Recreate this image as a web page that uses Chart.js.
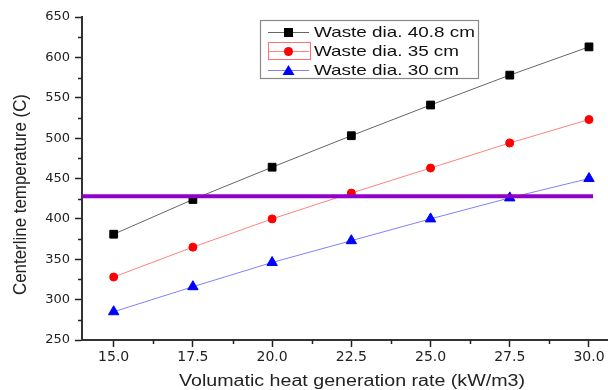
<!DOCTYPE html>
<html><head><meta charset="utf-8">
<script src="https://cdn.jsdelivr.net/npm/chart.js@4/dist/chart.umd.min.js"></script>
<style>html,body{margin:0;padding:0;background:#fff;}#wrap{width:608px;height:390px;}</style>
</head><body><div id="wrap"><canvas id="c" width="608" height="390"></canvas></div>
<script>
const rates = [15.0, 17.5, 20.0, 22.5, 25.0, 27.5, 30.0];
const dia408 = [381, 424, 464, 503, 541, 578, 613];
const dia35 = [328, 365, 400, 432, 463, 494, 523];
const dia30 = [285, 316, 346, 373, 400, 426, 450];
const seriesLabels = ['Waste dia. 40.8 cm', 'Waste dia. 35 cm', 'Waste dia. 30 cm'];
const refLevel = 428;
const refRange = [14.0, 30.13];
const xTicks = [15.0, 17.5, 20.0, 22.5, 25.0, 27.5, 30.0];
const yTicks = [250, 300, 350, 400, 450, 500, 550, 600, 650];
const xTitle = 'Volumatic heat generation rate (kW/m3)';
const yTitle = 'Centerline temperature (C)';

const FONT = 'DejaVu Sans';
const TFONT = 'Liberation Sans';
const pts = arr => rates.map((r, i) => ({x: r, y: arr[i]}));

function stretchedText(ctx, text, x, y, size, targetW, align) {
  ctx.font = size + 'px "' + TFONT + '"';
  const w = ctx.measureText(text).width;
  const sx = targetW / w;
  ctx.save();
  ctx.translate(x, y);
  ctx.scale(sx, 1);
  ctx.textAlign = 'left';
  ctx.fillText(text, align === 'center' ? -w / 2 : 0, 0);
  ctx.restore();
}

const extras = {
  id: 'extras',
  afterDraw(chart) {
    const ctx = chart.ctx, xs = chart.scales.x, ys = chart.scales.y;
    ctx.save();
    ctx.strokeStyle = '#222'; ctx.lineWidth = 1.5;
    for (let i = 0; i < xTicks.length - 1; i++) {
      const v = (xTicks[i] + xTicks[i + 1]) / 2;
      const px = Math.round(xs.getPixelForValue(v)) + 0.5;
      ctx.beginPath(); ctx.moveTo(px, ys.bottom); ctx.lineTo(px, ys.bottom + 4); ctx.stroke();
    }
    for (let i = 0; i < yTicks.length - 1; i++) {
      const v = (yTicks[i] + yTicks[i + 1]) / 2;
      const py = Math.round(ys.getPixelForValue(v)) + 0.5;
      ctx.beginPath(); ctx.moveTo(xs.left, py); ctx.lineTo(xs.left - 4, py); ctx.stroke();
    }
    ctx.fillStyle = '#222'; ctx.textBaseline = 'middle';
    stretchedText(ctx, xTitle, 352, 382, 16, 346, 'center');
    ctx.save();
    ctx.translate(21, 194.5); ctx.rotate(-Math.PI / 2);
    ctx.font = '16px "' + TFONT + '"';
    const yw = ctx.measureText(yTitle).width;
    ctx.scale(201 / yw, 1.1);
    ctx.textAlign = 'center';
    ctx.fillText(yTitle, 0, 0);
    ctx.restore();

    const bx = 260, by = 20, bw = 218, bh = 58;
    ctx.fillStyle = '#fff'; ctx.fillRect(bx, by, bw, bh);
    ctx.strokeStyle = '#888'; ctx.lineWidth = 1.2; ctx.strokeRect(bx + 0.5, by + 0.5, bw, bh);
    const rows = [32, 51, 70];
    const widths = [161, 145, 145];
    const ds = chart.data.datasets;
    for (let i = 0; i < 3; i++) {
      const d = ds[i], y = rows[i];
      ctx.strokeStyle = d.borderColor; ctx.lineWidth = 1;
      ctx.beginPath(); ctx.moveTo(268, y + 0.5); ctx.lineTo(309, y + 0.5); ctx.stroke();
      if (i === 1) { ctx.strokeStyle = '#ff7070'; ctx.strokeRect(268.5, 42.5, 42, 17); }
      ctx.fillStyle = d.pointBackgroundColor;
      if (d.pointStyle === 'rect') ctx.fillRect(284, y - 4, 9, 9);
      else if (d.pointStyle === 'circle') { ctx.beginPath(); ctx.arc(288.5, y + 0.5, 4.5, 0, Math.PI * 2); ctx.fill(); }
      else { ctx.beginPath(); ctx.moveTo(288.5, y - 5); ctx.lineTo(294.5, y + 5); ctx.lineTo(282.5, y + 5); ctx.closePath(); ctx.fill(); }
      ctx.fillStyle = '#111';
      stretchedText(ctx, d.label, 314, y + 1, 15, widths[i], 'left');
    }
    ctx.restore();
  }
};

new Chart(document.getElementById('c'), {
  type: 'line',
  data: {
    datasets: [
      {label: seriesLabels[0], data: pts(dia408), borderColor: '#666', borderWidth: 1, pointStyle: 'rect', pointRadius: 5.5, pointBackgroundColor: '#000', pointBorderColor: '#000', order: 2},
      {label: seriesLabels[1], data: pts(dia35), borderColor: '#ff8080', borderWidth: 1, pointStyle: 'circle', pointRadius: 4, pointBackgroundColor: '#ff0000', pointBorderColor: '#ff0000', order: 2},
      {label: seriesLabels[2], data: pts(dia30), borderColor: '#8080ff', borderWidth: 1, pointStyle: 'triangle', pointRadius: 6, pointBackgroundColor: '#0000ff', pointBorderColor: '#0000ff', order: 2},
      {label: 'ref', data: refRange.map(x => ({x, y: refLevel})), borderColor: '#9000c8', borderWidth: 4, pointRadius: 0, order: 1}
    ]
  },
  options: {
    responsive: false, animation: false,
    layout: {autoPadding: false, padding: {top: 17, right: 0, left: 0, bottom: 0}},
    plugins: {legend: {display: false}, tooltip: {enabled: false}},
    scales: {
      x: {
        type: 'linear', min: 14.0, max: 30.6,
        afterBuildTicks: s => { s.ticks = xTicks.map(v => ({value: v})); },
        afterFit: s => { s.height = 50; s.paddingRight = 0; s.paddingLeft = 0; },
        ticks: {callback: v => Number(v).toFixed(1), color: '#222', font: {family: FONT, size: 14}, padding: 2, maxRotation: 0, autoSkip: false},
        grid: {drawOnChartArea: false, drawTicks: true, tickLength: 7, color: '#222', tickWidth: 1.5},
        border: {display: true, color: '#333', width: 2}
      },
      y: {
        type: 'linear', min: 250, max: 650,
        afterBuildTicks: s => { s.ticks = yTicks.map(v => ({value: v})); },
        afterFit: s => { s.width = 82; },
        ticks: {color: '#222', font: {family: FONT, size: 13}, padding: 5},
        grid: {drawOnChartArea: false, drawTicks: true, tickLength: 7, color: '#222', tickWidth: 1.5},
        border: {display: true, color: '#333', width: 2}
      }
    }
  },
  plugins: [extras]
});
</script></body></html>
